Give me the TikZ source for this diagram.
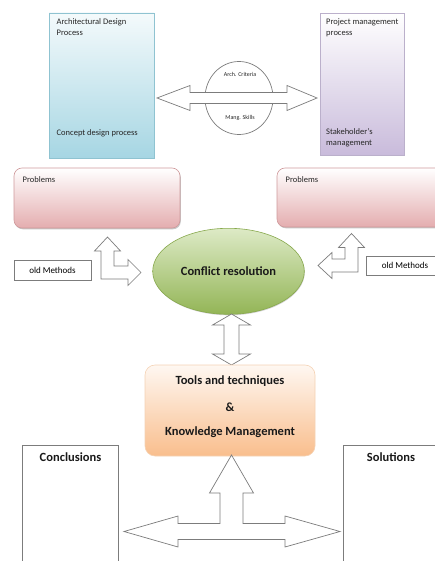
\documentclass[tikz,border=0pt]{standalone}
\usepackage{fontspec}
\setmainfont{Carlito}
\usepackage{tikz}
\usetikzlibrary{shapes,shadows}

\definecolor{archblue}{HTML}{A6D6E3}
\definecolor{archline}{HTML}{8FC3D1}
\definecolor{projlilac}{HTML}{C9BBDB}
\definecolor{projline}{HTML}{BBB0CB}
\definecolor{probpink}{HTML}{E4ADAF}
\definecolor{probline}{HTML}{CF9A9C}
\definecolor{confgreen}{HTML}{93B556}
\definecolor{conflight}{HTML}{DDEAC6}
\definecolor{confline}{HTML}{87A84C}
\definecolor{toolpeach}{HTML}{F9BE8D}
\definecolor{toolline}{HTML}{F4D2B4}
\definecolor{arrowgray}{HTML}{7C7C7C}

\begin{document}
\begin{tikzpicture}[x=1pt,y=-1pt,
  small/.style={font=\fontsize{8.5}{11}\selectfont,inner sep=0pt,align=left,text=black!85},
  tiny/.style={font=\fontsize{6}{7}\selectfont,inner sep=0pt,text=black!85},
  heading/.style={font=\fontsize{12.5}{15}\selectfont\bfseries,inner sep=0pt,text=black!90},
  blockarrow/.style={draw=arrowgray,fill=white,line width=0.7pt,line join=miter},
  plainbox/.style={draw=arrowgray,fill=white,line width=0.7pt,inner sep=0pt},
  procbox/.style={rectangle,line width=0.6pt,inner sep=0pt},
  probbox/.style={rectangle,rounded corners=8pt,draw=probline,line width=0.6pt,inner sep=0pt,
    top color=white,bottom color=probpink,
    drop shadow={shadow xshift=0.8pt,shadow yshift=-1.3pt,opacity=.45}}]
\clip (0,0) rectangle (435,561);

\node[procbox,draw=archline,top color=archblue!12,bottom color=archblue,
  minimum width=105,minimum height=145,
  drop shadow={shadow xshift=0.3pt,shadow yshift=-1.3pt,fill=teal!50!black,opacity=.6}] (arch) at (101.5,85.5) {};
\node[small,anchor=north west] (archT) at (56.5,18.5) {Architectural Design\\Process};
\node[small,anchor=west] (archB) at (56.5,133.5) {Concept design process};

\node[procbox,draw=projline,top color=white,bottom color=projlilac,
  minimum width=84,minimum height=142] (proj) at (362,84) {};
\node[small,anchor=north west] (projT) at (326,18.5) {Project management\\process};
\node[small,anchor=north west] (projB) at (326,128) {Stakeholder's\\management};

\node[draw=arrowgray,ellipse,line width=0.7pt,minimum width=68,minimum height=73,inner sep=0pt] (crit) at (239,98) {};
\draw[blockarrow] (157,98)--(190,85.5)--(190,92.5)--(287,92.5)--(287,85.5)--(317,98)
  --(287,110.5)--(287,103.5)--(190,103.5)--(190,110.5)--cycle;
\node[tiny] (critA) at (240,74) {Arch. Criteria};
\node[tiny] (critB) at (240,118) {Mang. Skills};

\node[probbox,minimum width=166,minimum height=60] (probL) at (97,198) {};
\node[small,anchor=west] (probLT) at (22.5,180) {Problems};
\node[probbox,minimum width=183,minimum height=59] (probR) at (368.5,197.5) {};
\node[small,anchor=west] (probRT) at (285.5,180) {Problems};

\node[plainbox,minimum width=77,minimum height=20,font=\fontsize{9}{11}\selectfont] (oldL) at (52.5,270) {old Methods};
\node[plainbox,minimum width=77,minimum height=18.5,font=\fontsize{9}{11}\selectfont] (oldR) at (405,265.8) {old Methods};

\draw[blockarrow] (101,279)--(101,251)--(94.5,251)--(107.5,237)--(120.5,251)--(114,251)--(114,266)
  --(128,266)--(128,259.5)--(141,272.5)--(128,285.5)--(128,279)--cycle;
\draw[blockarrow] (358,272)--(358,247.5)--(364.5,247.5)--(351.5,233.5)--(338.5,247.5)--(345,247.5)--(345,259)
  --(332,259)--(332,252.5)--(318,265.5)--(332,278.5)--(332,272)--cycle;

\node[ellipse,draw=confline,line width=0.6pt,top color=conflight,bottom color=confgreen,
  minimum width=151.6,minimum height=86,inner sep=0pt,
  drop shadow={shadow xshift=0.5pt,shadow yshift=-1pt,opacity=.35},
  heading] (conf) at (228.5,271.3) {Conflict resolution};

\draw[blockarrow] (231.5,314)--(250.5,325)--(239,325)--(239,354)--(250.5,354)--(231.5,365)
  --(212.5,354)--(224,354)--(224,325)--(212.5,325)--cycle;

\node[rectangle,rounded corners=10pt,draw=toolline,line width=0.6pt,top color=toolpeach!12,bottom color=toolpeach,
  minimum width=170,minimum height=91,inner sep=0pt] (tools) at (230,410.5) {};
\node[heading] (toolsA) at (230,381) {Tools and techniques};
\node[heading] (toolsB) at (230,407) {\&};
\node[heading] (toolsC) at (230,432) {Knowledge Management};

\node[plainbox,anchor=north west,minimum width=96,minimum height=150] (concl) at (22,445) {};
\node[heading] (conclT) at (70.5,457) {Conclusions};
\node[plainbox,anchor=north west,minimum width=120,minimum height=150] (sol) at (343,445) {};
\node[heading] (solT) at (391,457) {Solutions};

\draw[blockarrow] (231.5,455)--(253.5,493)--(243,493)--(243,523.5)--(285,523.5)--(285,516)--(340,531.5)
  --(285,547)--(285,539.5)--(178,539.5)--(178,547)--(124,531.5)--(178,516)--(178,523.5)
  --(220,523.5)--(220,493)--(209.5,493)--cycle;
\end{tikzpicture}
\end{document}
